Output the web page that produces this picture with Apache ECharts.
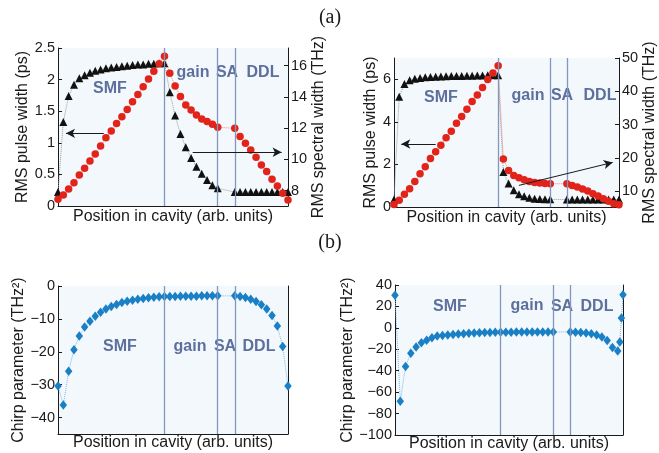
<!DOCTYPE html>
<html>
<head>
<meta charset="utf-8">
<script src="https://cdn.jsdelivr.net/npm/echarts@6/dist/echarts.min.js"></script>
<style>
  html, body { margin: 0; padding: 0; background: #fff; }
  #chart { width: 659px; height: 453px; }
</style>
</head>
<body>
<div id="chart"></div>
<script>
// positions along the cavity (SMF 0-20, gain 21-30, DDL after the SA gap)
const xPos = [0, 1, 2, 3, 4, 5, 6, 7, 8, 9, 10, 11, 12, 13, 14, 15, 16, 17, 18, 19, 20,
  21, 22, 23, 24, 25, 26, 27, 28, 29, 30,
  33.2, 34.2, 35.2, 36.2, 37.2, 38.2, 39.2, 40.2, 41.2, 42.2, 43.2]
const xPosB = [0, 1, 2, 3, 4, 5, 6, 7, 8, 9, 10, 11, 12, 13, 14, 15, 16, 17, 18, 19, 20,
  21, 22, 23, 24, 25, 26, 27, 28, 29, 30,
  33.2, 34.2, 35.2, 36.2, 37.2, 38.2, 39.2, 40.2, 41.2, 42.2, 42.6, 42.9, 43.2]
const sections = [20, 30, 33.2]

// (a) left: RMS pulse width (ps) / RMS spectral width (THz)
const widthA = [0.22, 1.33, 1.74, 1.92, 2.02, 2.07, 2.11, 2.14, 2.16, 2.18, 2.19, 2.20, 2.21, 2.22, 2.23, 2.24, 2.24, 2.25, 2.25, 2.26, 2.26,
  1.80, 1.43, 1.14, 0.93, 0.76, 0.62, 0.51, 0.41, 0.33, 0.28,
  0.22, 0.22, 0.22, 0.22, 0.22, 0.22, 0.22, 0.22, 0.22, 0.22, 0.22]
const specA = [7.45, 7.72, 8.1, 8.5, 9.0, 9.43, 9.9, 10.35, 10.86, 11.39, 11.82, 12.3, 12.73, 13.2, 13.69, 14.16, 14.65, 15.14, 15.65, 16.12, 16.6,
  15.51, 14.70, 14.02, 13.48, 13.16, 12.85, 12.59, 12.42, 12.25, 12.06,
  11.99, 11.46, 11.03, 10.60, 10.14, 9.64, 9.22, 8.73, 8.30, 7.83, 7.40]

// (a) right
const widthB = [0.35, 5.18, 5.78, 5.95, 6.02, 6.06, 6.09, 6.11, 6.12, 6.13, 6.14, 6.15, 6.16, 6.16, 6.17, 6.17, 6.18, 6.18, 6.19, 6.19, 6.19,
  1.65, 1.10, 0.79, 0.60, 0.50, 0.44, 0.39, 0.38, 0.36, 0.36,
  0.35, 0.35, 0.35, 0.35, 0.35, 0.35, 0.35, 0.35, 0.35, 0.35, 0.35]
const specB = [5.97, 7.2, 9.0, 10.7, 12.9, 15.2, 17.3, 19.8, 21.8, 23.8, 26.0, 28.0, 30.4, 32.4, 34.6, 36.9, 38.9, 41.1, 43.5, 45.5, 47.7,
  19.6, 16.2, 14.7, 14.0, 13.4, 12.9, 12.6, 12.4, 12.3, 12.2,
  12.2, 11.7, 11.2, 10.6, 10.0, 9.2, 8.5, 7.7, 6.9, 6.2, 5.9]

// (b) chirp parameter (THz^2)
const chirpA = [-30.4, -36.2, -25.9, -19.4, -15.2, -12.5, -10.7, -9.2, -8.0, -7.0, -6.2, -5.6, -5.0, -4.6, -4.3, -4.0, -3.8, -3.6, -3.4, -3.3, -3.2,
  -3.2, -3.2, -3.1, -3.1, -3.1, -3.1, -3.0, -3.0, -3.0, -3.0,
  -3.0, -3.2, -3.5, -4.0, -4.7, -5.7, -7.0, -9.0, -12.2, -18.4, -30.4]
const chirpB = [30.5, -68.5, -36.1, -23.6, -17.9, -13.9, -11.5, -9.2, -7.7, -7.1, -6.6, -6.2, -5.8, -5.4, -5.0, -4.8, -4.6, -4.4, -4.3, -4.2, -4.1,
  -4.0, -4.0, -3.9, -3.9, -3.9, -3.8, -3.8, -3.8, -3.8, -3.8,
  -3.8, -4.0, -4.3, -4.8, -5.5, -6.6, -8.6, -11.7, -18.4, -21.6, -13.3, 9.3, 30.9]

// tick labels
const ticksWidthA = [0, 0.5, 1, 1.5, 2, 2.5]
const ticksSpecA = [8, 10, 12, 14, 16]
const ticksWidthB = [0, 2, 4, 6]
const ticksSpecB = [10, 20, 30, 40, 50]
const ticksChirpA = [-40, -30, -20, -10, 0]
const ticksChirpB = [-100, -80, -60, -40, -20, 0, 20, 40]

const FONT = "'Liberation Sans', Arial, sans-serif"
const INK = '#1a1a1a'
const SECTION_COLOR = '#8396be'
const TAG_COLOR = '#5d6f9c'

function pairs(xs, ys) {
  return ys.map((y, i) => [xs[i], y])
}
function minus(v) {
  return String(v).replace('-', '\u2212')
}

const grids = [
  { left: 58, top: 48, width: 230, height: 158 },
  { left: 394, top: 58, width: 231, height: 149 },
  { left: 58, top: 286, width: 230, height: 148 },
  { left: 395, top: 285, width: 228, height: 152 }
].map(g => ({ ...g, show: true, backgroundColor: '#f2f8fc', borderWidth: 0 }))

function xAx(i) {
  return {
    type: 'value', gridIndex: i, min: 0, max: 43.2,
    name: 'Position in cavity (arb. units)', nameLocation: 'middle', nameGap: i < 2 ? 3 : 1,
    nameTextStyle: { fontFamily: FONT, fontSize: 16, color: INK, verticalAlign: 'top' },
    axisLine: { show: true, onZero: false, lineStyle: { color: INK, width: 1 } },
    axisTick: { show: false }, axisLabel: { show: false }, splitLine: { show: false }
  }
}

function yAx(i, pos, min, max, ticks, name, gap) {
  const hasLabels = !!ticks
  return {
    type: 'value', gridIndex: i, position: pos, min: min, max: max,
    name: name || '', nameLocation: 'middle', nameGap: gap || 0, nameRotate: 90,
    nameTextStyle: { fontFamily: FONT, fontSize: 16, color: INK },
    axisLine: { show: true, onZero: false, lineStyle: { color: INK, width: 1 } },
    axisTick: { show: hasLabels, inside: true, length: 4, customValues: ticks || [], lineStyle: { color: INK } },
    axisLabel: {
      show: hasLabels, customValues: ticks || [], margin: 3,
      fontFamily: FONT, fontSize: 14.5, color: INK, formatter: minus
    },
    splitLine: { show: false }
  }
}

const vlines = {
  silent: true, symbol: 'none', animation: false,
  label: { show: false },
  lineStyle: { color: SECTION_COLOR, width: 1.3, type: 'solid' },
  data: sections.map(v => ({ xAxis: v }))
}

function arrow(from, to) {
  const ls = { color: INK, width: 1, type: 'solid' }
  return [
    { coord: from, symbol: 'none', lineStyle: ls },
    { coord: to, symbol: 'arrow', symbolSize: [7, 9], lineStyle: ls }
  ]
}

function tri(xi, yi, xs, ys, marks) {
  return {
    type: 'line', xAxisIndex: xi, yAxisIndex: yi, data: pairs(xs, ys), clip: false,
    symbol: 'triangle', symbolSize: 8, itemStyle: { color: '#111' },
    lineStyle: { color: '#9a9a9a', width: 1, type: 'dotted' },
    markLine: marks, z: 3
  }
}
function dot(xi, yi, xs, ys, marks) {
  return {
    type: 'line', xAxisIndex: xi, yAxisIndex: yi, data: pairs(xs, ys), clip: false,
    symbol: 'circle', symbolSize: 7.5, itemStyle: { color: '#e2231a' },
    lineStyle: { color: '#f08a85', width: 1, type: 'dotted' },
    markLine: marks, z: 4
  }
}
function diamond(xi, yi, xs, ys) {
  return {
    type: 'line', xAxisIndex: xi, yAxisIndex: yi, data: pairs(xs, ys), clip: false,
    symbol: 'diamond', symbolSize: [7.5, 9.5], itemStyle: { color: '#1a80c6' },
    lineStyle: { color: '#7fbbe3', width: 1, type: 'dotted' },
    markLine: vlines, z: 3
  }
}

function tag(text, x, y) {
  return {
    type: 'text', x: x, y: y,
    style: { text: text, fontFamily: FONT, fontSize: 16, fontWeight: 'bold', fill: TAG_COLOR, align: 'center', verticalAlign: 'middle' }
  }
}
function panel(text, x, y) {
  return {
    type: 'text', x: x, y: y,
    style: { text: text, fontFamily: "'Liberation Serif', 'DejaVu Serif', serif", fontSize: 20, fill: INK, align: 'center', verticalAlign: 'middle' }
  }
}

const option = {
  animation: false,
  grid: grids,
  xAxis: [xAx(0), xAx(1), xAx(2), xAx(3)],
  yAxis: [
    yAx(0, 'left', 0, 2.5, ticksWidthA, 'RMS pulse width (ps)', 23),
    yAx(0, 'right', 7.02, 17.13, ticksSpecA, 'RMS spectral width (THz)', 17),
    yAx(1, 'left', 0, 7, ticksWidthB, 'RMS pulse width (ps)', 15),
    yAx(1, 'right', 5.2, 50, ticksSpecB, 'RMS spectral width (THz)', 23),
    yAx(2, 'left', -45, 0, ticksChirpA, 'Chirp parameter (THz\u00b2)', 31),
    yAx(2, 'right', -45, 0, null),
    yAx(3, 'left', -100, 40, ticksChirpB, 'Chirp parameter (THz\u00b2)', 37),
    yAx(3, 'right', -100, 40, null)
  ],
  series: [
    tri(0, 0, xPos, widthA, { ...vlines, data: [...vlines.data, arrow([8.6, 1.15], [1.5, 1.15])] }),
    dot(0, 1, xPos, specA, { silent: true, symbol: 'none', label: { show: false }, data: [arrow([25.3, 10.46], [42.0, 10.46])] }),
    tri(1, 2, xPos, widthB, { ...vlines, data: [...vlines.data, arrow([8.0, 2.96], [1.4, 2.96])] }),
    dot(1, 3, xPos, specB, { silent: true, symbol: 'none', label: { show: false }, data: [arrow([24.0, 11.7], [42.0, 18.6])] }),
    diamond(2, 4, xPos, chirpA),
    diamond(3, 6, xPosB, chirpB)
  ],
  graphic: [
    panel('(a)', 330, 18),
    panel('(b)', 330, 243),
    tag('SMF', 110, 89), tag('gain', 193, 73), tag('SA', 227, 73), tag('DDL', 263, 73),
    tag('SMF', 441, 98), tag('gain', 528, 96), tag('SA', 562, 96), tag('DDL', 600, 96),
    tag('SMF', 120, 347), tag('gain', 190, 347), tag('SA', 225, 347), tag('DDL', 259, 347),
    tag('SMF', 450, 307), tag('gain', 527, 306), tag('SA', 562, 307), tag('DDL', 597, 307)
  ]
}

const chart = echarts.init(document.getElementById('chart'))
chart.setOption(option)
</script>
</body>
</html>
